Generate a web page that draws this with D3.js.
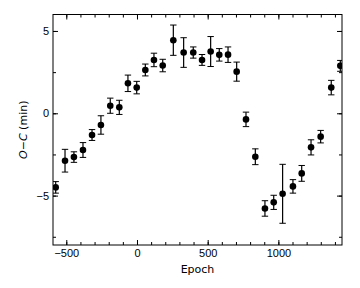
<!DOCTYPE html>
<html lang="en">
  <head>
    <meta charset="utf-8">
    <script src="https://cdn.jsdelivr.net/npm/d3@7"></script>
    <style>
      body { margin: 0; background: #fff; }
      svg { display: block; font-family: 'DejaVu Sans', sans-serif; }
      .tick line { stroke: #000; }
      .tick text { font-size: 11px; fill: #000; }
    </style>
  </head>
  <body>
    <div id="chart"></div>
    <script>
      // data
      var epochs = [-575, -509, -446, -382, -318, -255, -189, -125, -64, -2, 59, 120, 182, 257, 330, 398,
                    460, 521, 582, 644, 705, 771, 837, 905, 967, 1030, 1103, 1165, 1231, 1299, 1374, 1438];
      var ocMin = [-4.50, -2.88, -2.66, -2.23, -1.32, -0.71, 0.46, 0.36, 1.82, 1.56, 2.63, 3.24, 2.90, 4.44, 3.69, 3.69,
                   3.24, 3.75, 3.55, 3.56, 2.53, -0.37, -2.64, -5.78, -5.41, -4.89, -4.44, -3.65, -2.07, -1.42, 1.56, 2.88];
      var ocErr = [0.35, 0.69, 0.32, 0.45, 0.33, 0.56, 0.46, 0.43, 0.50, 0.38, 0.36, 0.41, 0.38, 0.92, 0.90, 0.34,
                   0.33, 0.91, 0.38, 0.47, 0.58, 0.44, 0.48, 0.47, 0.43, 1.79, 0.41, 0.48, 0.46, 0.38, 0.44, 0.33];

      var xMajor = [-500, 0, 500, 1000];
      var xMinor = [-500, -400, -300, -200, -100, 0, 100, 200, 300, 400, 500, 600, 700, 800, 900, 1000, 1100, 1200, 1300, 1400];
      var yMajor = [-5, 0, 5];
      var yMinor = [-7.5, -5, -2.5, 0, 2.5, 5];

      var width = 360, height = 288;
      var padL = 53, padR = 342, padT = 14.5, padB = 245;

      var svg = d3.select('#chart').append('svg')
                  .attr('width', width)
                  .attr('height', height);

      var x = d3.scaleLinear().domain([-594, 1450]).range([padL, padR]);
      var y = d3.scaleLinear().domain([-8, 6]).range([padB, padT]);

      // minor ticks, all four sides, pointing in
      function minorAxis(axis, vals, tr) {
        svg.append('g')
           .attr('transform', tr)
           .call(axis.tickValues(vals).tickSize(-3).tickFormat(''))
           .call(function(g) { g.select('.domain').remove(); });
      }
      minorAxis(d3.axisBottom(x), xMinor, 'translate(0,' + padB + ')');
      minorAxis(d3.axisTop(x), xMinor, 'translate(0,' + padT + ')');
      minorAxis(d3.axisLeft(y), yMinor, 'translate(' + padL + ',0)');
      minorAxis(d3.axisRight(y), yMinor, 'translate(' + padR + ',0)');

      // major ticks
      var fmt = function(d) { return d < 0 ? '\u2212' + Math.abs(d) : d; };

      svg.append('g')
         .attr('transform', 'translate(0,' + padB + ')')
         .call(d3.axisBottom(x).tickValues(xMajor).tickSize(-5).tickPadding(4).tickFormat(fmt))
         .call(function(g) { g.select('.domain').remove(); });

      svg.append('g')
         .attr('transform', 'translate(0,' + padT + ')')
         .call(d3.axisTop(x).tickValues(xMajor).tickSize(-5).tickFormat(''))
         .call(function(g) { g.select('.domain').remove(); });

      svg.append('g')
         .attr('transform', 'translate(' + padL + ',0)')
         .call(d3.axisLeft(y).tickValues(yMajor).tickSize(-5).tickPadding(4).tickFormat(fmt))
         .call(function(g) { g.select('.domain').remove(); });

      svg.append('g')
         .attr('transform', 'translate(' + padR + ',0)')
         .call(d3.axisRight(y).tickValues(yMajor).tickSize(-5).tickFormat(''))
         .call(function(g) { g.select('.domain').remove(); });

      // frame
      svg.append('rect')
         .attr('x', padL).attr('y', padT)
         .attr('width', padR - padL).attr('height', padB - padT)
         .attr('fill', 'none')
         .attr('stroke', '#000')
         .attr('stroke-width', 1);

      // clip data to the axes box
      svg.append('clipPath').attr('id', 'box')
         .append('rect')
         .attr('x', padL).attr('y', padT)
         .attr('width', padR - padL).attr('height', padB - padT);

      var plot = svg.append('g').attr('clip-path', 'url(#box)');
      var cap = 3.2;

      var pts = plot.selectAll('g.pt').data(epochs)
                    .enter().append('g').attr('class', 'pt');

      pts.append('line')
         .attr('x1', function(d) { return x(d); })
         .attr('x2', function(d) { return x(d); })
         .attr('y1', function(d, i) { return y(ocMin[i] - ocErr[i]); })
         .attr('y2', function(d, i) { return y(ocMin[i] + ocErr[i]); })
         .attr('stroke', '#000').attr('stroke-width', 1.2);

      [-1, 1].forEach(function(s) {
        pts.append('line')
           .attr('x1', function(d) { return x(d) - cap; })
           .attr('x2', function(d) { return x(d) + cap; })
           .attr('y1', function(d, i) { return y(ocMin[i] + s * ocErr[i]); })
           .attr('y2', function(d, i) { return y(ocMin[i] + s * ocErr[i]); })
           .attr('stroke', '#000').attr('stroke-width', 1);
      });

      pts.append('circle')
         .attr('cx', function(d) { return x(d); })
         .attr('cy', function(d, i) { return y(ocMin[i]); })
         .attr('r', 3.3)
         .attr('fill', '#000');

      // axis labels
      svg.append('text')
         .text('Epoch')
         .attr('x', (padL + padR) / 2)
         .attr('y', 273)
         .attr('text-anchor', 'middle')
         .style('font-size', '11px');

      var yl = svg.append('text')
                  .attr('transform', 'translate(27,' + ((padT + padB) / 2) + ') rotate(-90)')
                  .attr('text-anchor', 'middle')
                  .style('font-size', '11px');
      yl.append('tspan').style('font-style', 'italic').text('O');
      yl.append('tspan').text('\u2212');
      yl.append('tspan').style('font-style', 'italic').text('C');
      yl.append('tspan').text(' (min)');
    </script>
  </body>
</html>
